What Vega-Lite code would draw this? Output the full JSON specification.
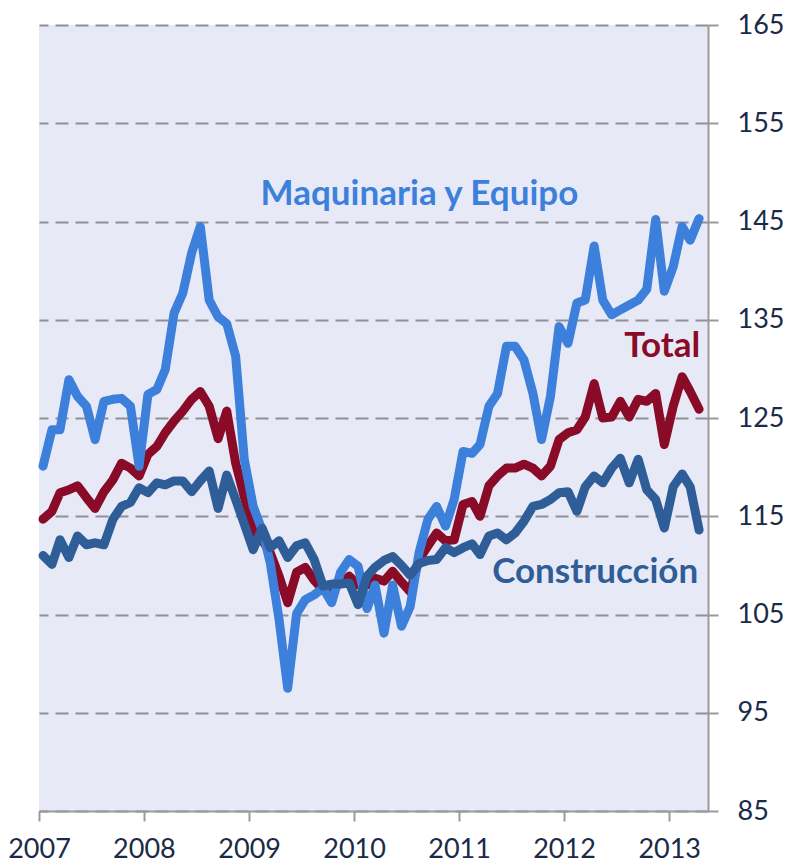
{
  "$schema": "https://vega.github.io/schema/vega-lite/v6.json",
  "width": 669,
  "height": 786,
  "autosize": {"type": "none"},
  "padding": {"left": 39, "top": 25, "right": 80, "bottom": 53},
  "background": "white",
  "view": {"fill": "#E7EAF6", "stroke": null},
  "datasets": {
    "series": [
      {"fecha": "2007-01-15", "Maquinaria": 120.1, "Total": 114.7, "Construccion": 111.0},
      {"fecha": "2007-02-15", "Maquinaria": 123.8, "Total": 115.5, "Construccion": 110.1},
      {"fecha": "2007-03-15", "Maquinaria": 123.8, "Total": 117.4, "Construccion": 112.6},
      {"fecha": "2007-04-15", "Maquinaria": 128.9, "Total": 117.7, "Construccion": 110.8},
      {"fecha": "2007-05-15", "Maquinaria": 127.2, "Total": 118.1, "Construccion": 113.0},
      {"fecha": "2007-06-15", "Maquinaria": 126.2, "Total": 116.9, "Construccion": 112.1},
      {"fecha": "2007-07-15", "Maquinaria": 122.8, "Total": 115.8, "Construccion": 112.3},
      {"fecha": "2007-08-15", "Maquinaria": 126.7, "Total": 117.5, "Construccion": 112.1},
      {"fecha": "2007-09-15", "Maquinaria": 126.9, "Total": 118.7, "Construccion": 114.7},
      {"fecha": "2007-10-15", "Maquinaria": 127.0, "Total": 120.4, "Construccion": 116.0},
      {"fecha": "2007-11-15", "Maquinaria": 126.2, "Total": 119.9, "Construccion": 116.4},
      {"fecha": "2007-12-15", "Maquinaria": 120.1, "Total": 119.1, "Construccion": 117.9},
      {"fecha": "2008-01-15", "Maquinaria": 127.4, "Total": 121.3, "Construccion": 117.4},
      {"fecha": "2008-02-15", "Maquinaria": 127.9, "Total": 122.1, "Construccion": 118.4},
      {"fecha": "2008-03-15", "Maquinaria": 129.9, "Total": 123.5, "Construccion": 118.2},
      {"fecha": "2008-04-15", "Maquinaria": 135.7, "Total": 124.7, "Construccion": 118.6},
      {"fecha": "2008-05-15", "Maquinaria": 137.7, "Total": 125.7, "Construccion": 118.6},
      {"fecha": "2008-06-15", "Maquinaria": 141.8, "Total": 126.9, "Construccion": 117.5},
      {"fecha": "2008-07-15", "Maquinaria": 144.5, "Total": 127.7, "Construccion": 118.6},
      {"fecha": "2008-08-15", "Maquinaria": 137.0, "Total": 126.2, "Construccion": 119.6},
      {"fecha": "2008-09-15", "Maquinaria": 135.3, "Total": 122.9, "Construccion": 115.8},
      {"fecha": "2008-10-15", "Maquinaria": 134.6, "Total": 125.7, "Construccion": 119.2},
      {"fecha": "2008-11-15", "Maquinaria": 131.3, "Total": 120.4, "Construccion": 116.7},
      {"fecha": "2008-12-15", "Maquinaria": 120.8, "Total": 117.0, "Construccion": 114.2},
      {"fecha": "2009-01-15", "Maquinaria": 116.0, "Total": 113.6, "Construccion": 111.6},
      {"fecha": "2009-02-15", "Maquinaria": 113.6, "Total": 112.6, "Construccion": 113.8},
      {"fecha": "2009-03-15", "Maquinaria": 110.3, "Total": 111.3, "Construccion": 111.8},
      {"fecha": "2009-04-15", "Maquinaria": 104.5, "Total": 108.9, "Construccion": 112.5},
      {"fecha": "2009-05-15", "Maquinaria": 97.5, "Total": 106.2, "Construccion": 110.8},
      {"fecha": "2009-06-15", "Maquinaria": 105.1, "Total": 109.3, "Construccion": 112.0},
      {"fecha": "2009-07-15", "Maquinaria": 106.5, "Total": 109.8, "Construccion": 112.3},
      {"fecha": "2009-08-15", "Maquinaria": 107.0, "Total": 108.5, "Construccion": 110.6},
      {"fecha": "2009-09-15", "Maquinaria": 107.7, "Total": 107.5, "Construccion": 107.9},
      {"fecha": "2009-10-15", "Maquinaria": 106.2, "Total": 107.6, "Construccion": 108.1},
      {"fecha": "2009-11-15", "Maquinaria": 109.3, "Total": 108.2, "Construccion": 108.1},
      {"fecha": "2009-12-15", "Maquinaria": 110.6, "Total": 108.9, "Construccion": 108.2},
      {"fecha": "2010-01-15", "Maquinaria": 109.9, "Total": 108.0, "Construccion": 106.0},
      {"fecha": "2010-02-15", "Maquinaria": 105.6, "Total": 108.0, "Construccion": 108.9},
      {"fecha": "2010-03-15", "Maquinaria": 108.0, "Total": 108.7, "Construccion": 109.8},
      {"fecha": "2010-04-15", "Maquinaria": 103.1, "Total": 108.4, "Construccion": 110.5},
      {"fecha": "2010-05-15", "Maquinaria": 108.0, "Total": 109.4, "Construccion": 110.9},
      {"fecha": "2010-06-15", "Maquinaria": 103.8, "Total": 108.3, "Construccion": 110.0},
      {"fecha": "2010-07-15", "Maquinaria": 105.8, "Total": 107.3, "Construccion": 109.0},
      {"fecha": "2010-08-15", "Maquinaria": 111.3, "Total": 110.6, "Construccion": 110.2},
      {"fecha": "2010-09-15", "Maquinaria": 114.7, "Total": 112.0, "Construccion": 110.5},
      {"fecha": "2010-10-15", "Maquinaria": 116.0, "Total": 113.3, "Construccion": 110.6},
      {"fecha": "2010-11-15", "Maquinaria": 114.0, "Total": 112.5, "Construccion": 111.8},
      {"fecha": "2010-12-15", "Maquinaria": 116.7, "Total": 112.6, "Construccion": 111.3},
      {"fecha": "2011-01-15", "Maquinaria": 121.6, "Total": 116.2, "Construccion": 111.8},
      {"fecha": "2011-02-15", "Maquinaria": 121.4, "Total": 116.5, "Construccion": 112.2},
      {"fecha": "2011-03-15", "Maquinaria": 122.3, "Total": 115.0, "Construccion": 111.1},
      {"fecha": "2011-04-15", "Maquinaria": 126.2, "Total": 118.1, "Construccion": 113.0},
      {"fecha": "2011-05-15", "Maquinaria": 127.5, "Total": 119.1, "Construccion": 113.3},
      {"fecha": "2011-06-15", "Maquinaria": 132.3, "Total": 119.9, "Construccion": 112.6},
      {"fecha": "2011-07-15", "Maquinaria": 132.3, "Total": 119.9, "Construccion": 113.3},
      {"fecha": "2011-08-15", "Maquinaria": 130.9, "Total": 120.3, "Construccion": 114.5},
      {"fecha": "2011-09-15", "Maquinaria": 127.5, "Total": 119.9, "Construccion": 116.0},
      {"fecha": "2011-10-15", "Maquinaria": 122.8, "Total": 119.1, "Construccion": 116.2},
      {"fecha": "2011-11-15", "Maquinaria": 127.2, "Total": 120.1, "Construccion": 116.7},
      {"fecha": "2011-12-15", "Maquinaria": 134.3, "Total": 122.8, "Construccion": 117.4},
      {"fecha": "2012-01-15", "Maquinaria": 132.6, "Total": 123.5, "Construccion": 117.5},
      {"fecha": "2012-02-15", "Maquinaria": 136.7, "Total": 123.8, "Construccion": 115.5},
      {"fecha": "2012-03-15", "Maquinaria": 137.0, "Total": 125.1, "Construccion": 118.0},
      {"fecha": "2012-04-15", "Maquinaria": 142.5, "Total": 128.5, "Construccion": 119.1},
      {"fecha": "2012-05-15", "Maquinaria": 137.0, "Total": 125.0, "Construccion": 118.4},
      {"fecha": "2012-06-15", "Maquinaria": 135.5, "Total": 125.1, "Construccion": 119.9},
      {"fecha": "2012-07-15", "Maquinaria": 136.0, "Total": 126.7, "Construccion": 120.9},
      {"fecha": "2012-08-15", "Maquinaria": 136.5, "Total": 125.1, "Construccion": 118.4},
      {"fecha": "2012-09-15", "Maquinaria": 137.0, "Total": 126.9, "Construccion": 120.8},
      {"fecha": "2012-10-15", "Maquinaria": 138.1, "Total": 126.7, "Construccion": 117.7},
      {"fecha": "2012-11-15", "Maquinaria": 145.2, "Total": 127.5, "Construccion": 116.7},
      {"fecha": "2012-12-15", "Maquinaria": 137.9, "Total": 122.3, "Construccion": 113.8},
      {"fecha": "2013-01-15", "Maquinaria": 140.4, "Total": 126.2, "Construccion": 118.0},
      {"fecha": "2013-02-15", "Maquinaria": 144.5, "Total": 129.2, "Construccion": 119.3},
      {"fecha": "2013-03-15", "Maquinaria": 143.1, "Total": 127.7, "Construccion": 118.0},
      {"fecha": "2013-04-15", "Maquinaria": 145.3, "Total": 125.9, "Construccion": 113.6}
    ],
    "labels": [
      {"fecha": "2012-02-20", "valor": 146.7, "label": "Maquinaria y Equipo"},
      {"fecha": "2013-04-19", "valor": 131.2, "label": "Total"},
      {"fecha": "2013-04-12", "valor": 108.2, "label": "Construcción"}
    ]
  },
  "encoding": {
    "x": {
      "field": "fecha",
      "type": "temporal",
      "scale": {"domain": [{"year": 2007, "month": 1, "date": 1}, {"year": 2013, "month": 5, "date": 16}]},
      "axis": {
        "orient": "bottom",
        "title": null,
        "grid": false,
        "format": "%Y",
        "tickCount": {"interval": "year", "step": 1},
        "domainColor": "#9A9A9A",
        "domainWidth": 2,
        "tickColor": "#9A9A9A",
        "tickWidth": 2,
        "tickSize": 10,
        "labelFont": "Lato",
        "labelFontSize": 27,
        "labelColor": "#1B2A47",
        "labelPadding": 15,
        "labelAlign": "center",
        "labelFlush": false,
        "labelOverlap": false
      }
    },
    "y": {
      "field": "valor",
      "type": "quantitative",
      "scale": {"domain": [85, 165], "nice": false, "zero": false},
      "axis": {
        "orient": "right",
        "title": null,
        "values": [85, 95, 105, 115, 125, 135, 145, 155, 165],
        "grid": true,
        "gridColor": "#8F9096",
        "gridWidth": 2,
        "gridDash": [13, 7],
        "domainColor": "#9A9A9A",
        "domainWidth": 2,
        "tickColor": "#9A9A9A",
        "tickWidth": 2,
        "tickSize": 10,
        "labelFont": "Lato",
        "labelFontSize": 27,
        "labelColor": "#1B2A47",
        "labelPadding": 19,
        "labelFlush": false
      }
    }
  },
  "layer": [
    {
      "data": {"name": "series"},
      "transform": [
        {"fold": ["Total", "Maquinaria", "Construccion"], "as": ["serie", "valor"]},
        {"filter": "datum.serie === 'Total'"}
      ],
      "mark": {"type": "line", "color": "#8A0B28", "strokeWidth": 9, "strokeJoin": "round", "strokeCap": "round"}
    },
    {
      "data": {"name": "series"},
      "transform": [
        {"fold": ["Total", "Maquinaria", "Construccion"], "as": ["serie", "valor"]},
        {"filter": "datum.serie === 'Maquinaria'"}
      ],
      "mark": {"type": "line", "color": "#3D80DC", "strokeWidth": 9, "strokeJoin": "round", "strokeCap": "round"}
    },
    {
      "data": {"name": "series"},
      "transform": [
        {"fold": ["Total", "Maquinaria", "Construccion"], "as": ["serie", "valor"]},
        {"filter": "datum.serie === 'Construccion'"}
      ],
      "mark": {"type": "line", "color": "#2F5D98", "strokeWidth": 9, "strokeJoin": "round", "strokeCap": "round"}
    },
    {
      "data": {"name": "labels"},
      "mark": {"type": "text", "font": "Lato", "fontWeight": "bold", "fontSize": 35, "align": "right", "baseline": "alphabetic"},
      "encoding": {
        "text": {"field": "label"},
        "color": {
          "field": "label",
          "type": "nominal",
          "scale": {"domain": ["Maquinaria y Equipo", "Total", "Construcción"], "range": ["#3D80DC", "#8A0B28", "#2F5D98"]},
          "legend": null
        }
      }
    }
  ]
}
